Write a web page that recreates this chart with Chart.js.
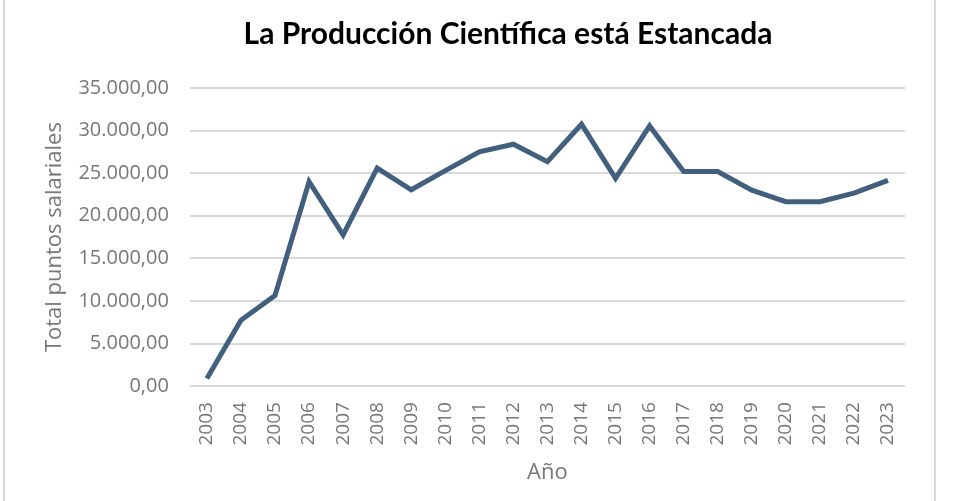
<!DOCTYPE html>
<html lang="es">
<head>
<meta charset="utf-8">
<title>La Producción Científica está Estancada</title>
<script src="https://cdn.jsdelivr.net/npm/chart.js@4/dist/chart.umd.min.js"></script>
<style>
  html, body { margin: 0; padding: 0; background: #fff; }
  #wrap { position: relative; width: 960px; height: 501px; }
  #frame {
    position: absolute; left: 3px; top: 0; width: 929px; height: 501px;
    border-left: 2px solid #d9d9d9; border-right: 2px solid #d9d9d9;
  }
  canvas { position: absolute; left: 0; top: 0; }
</style>
</head>
<body>
<div id="wrap">
  <div id="frame"></div>
  <canvas id="chart" width="960" height="501"></canvas>
</div>
<script>
// Chart data
const years = ['2003', '2004', '2005', '2006', '2007', '2008', '2009', '2010', '2011', '2012', '2013',
  '2014', '2015', '2016', '2017', '2018', '2019', '2020', '2021', '2022', '2023'];
const puntos = [900, 7750, 10650, 24000, 17750, 25600, 23050, 25300, 27500, 28400, 26350,
  30750, 24400, 30550, 25200, 25200, 23000, 21650, 21650, 22650, 24150];
const yMin = 0;
const yMax = 35000;
const yStep = 5000;

// Format number like 35.000,00
const formatNumber = (value) => {
  const fixed = Math.abs(value).toFixed(2).split('.');
  const intPart = fixed[0].replace(/\B(?=(\d{3})+(?!\d))/g, '.');
  return (value < 0 ? '-' : '') + intPart + ',' + fixed[1];
};

const grey = '#777777';

// Shift the title box so it is centred like the original
const titleShift = {
  id: 'titleShift',
  afterLayout: (chart) => {
    if (chart.titleBlock) {
      chart.titleBlock.left = 111;
      chart.titleBlock.right = 905;
    }
  }
};

const ctx = document.getElementById('chart');
new Chart(ctx, {
  type: 'line',
  data: {
    labels: years,
    datasets: [{
      label: 'Total puntos salariales',
      data: puntos,
      borderColor: '#42607e',
      borderWidth: 5,
      pointRadius: 0,
      pointHoverRadius: 0,
      tension: 0,
      fill: false
    }]
  },
  options: {
    responsive: false,
    animation: false,
    layout: {
      padding: { left: 42, right: 55, top: 0, bottom: 15 }
    },
    plugins: {
      legend: { display: false },
      tooltip: { enabled: false },
      title: {
        display: true,
        text: 'La Producción Científica está Estancada',
        color: '#000',
        font: { family: 'Lato', size: 30, weight: 'bold' },
        padding: { top: 16, bottom: 36 }
      }
    },
    scales: {
      x: {
        offset: true,
        grid: { display: false, drawTicks: false },
        border: { display: false },
        ticks: {
          color: grey,
          font: { family: 'Open Sans', size: 19 },
          autoSkip: false,
          minRotation: 90,
          maxRotation: 90,
          padding: 16
        },
        title: {
          display: true,
          text: 'Año',
          color: grey,
          font: { family: 'Open Sans', size: 22 },
          padding: { top: -2, bottom: 0 }
        }
      },
      y: {
        min: yMin,
        max: yMax,
        grid: { color: '#d9d9d9', lineWidth: 2, drawTicks: false },
        border: { display: false },
        ticks: {
          stepSize: yStep,
          color: grey,
          font: { family: 'Open Sans', size: 20 },
          padding: 21,
          callback: (value) => formatNumber(value)
        },
        title: {
          display: true,
          text: 'Total puntos salariales',
          color: grey,
          font: { family: 'Open Sans', size: 22 },
          padding: { top: 0, bottom: -11 }
        }
      }
    }
  },
  plugins: [titleShift]
});
</script>
</body>
</html>
